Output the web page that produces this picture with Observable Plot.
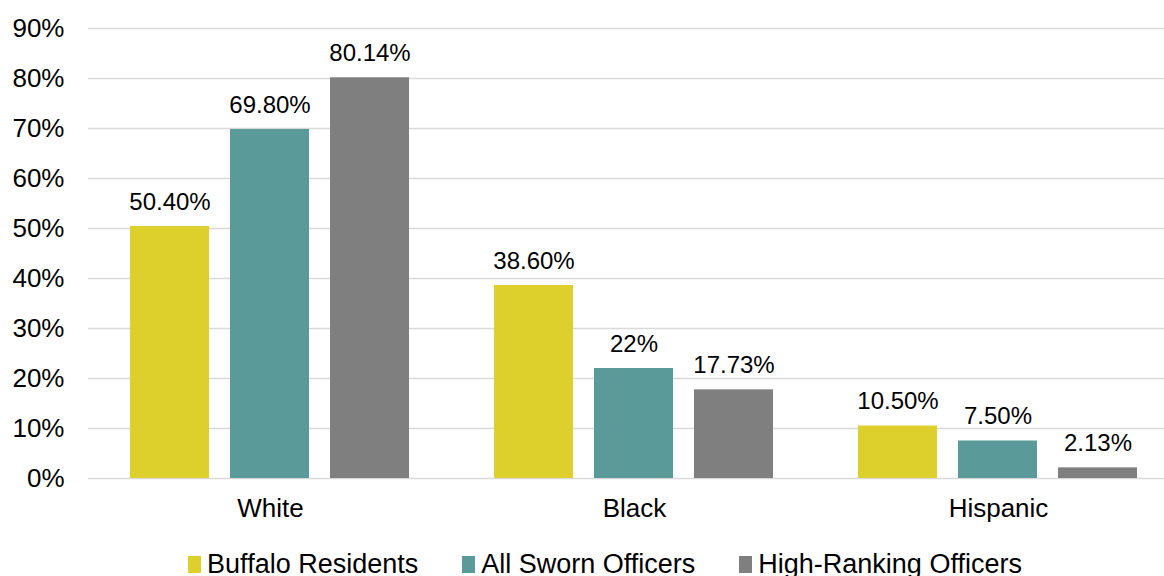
<!DOCTYPE html>
<html>
<head>
<meta charset="utf-8">
<script src="https://cdn.jsdelivr.net/npm/d3@7"></script>
<script src="https://cdn.jsdelivr.net/npm/@observablehq/plot@0.6"></script>
<style>
  html, body { margin: 0; padding: 0; background: #fff; overflow: hidden; width: 1164px; height: 576px; }
  #chart svg { display: block; overflow: hidden; }
  #legend { display: flex; justify-content: center; font-family: "Liberation Sans", Arial, sans-serif; font-size: 27px; color: #000; margin-top: 20px; line-height: 28px; padding-left: 46px; }
  .item { display: flex; align-items: center; margin-right: 44px; }
  .item:last-child { margin-right: 0; }
  .sw { width: 13px; height: 17px; margin-right: 6px; }
</style>
</head>
<body>
<div id="chart"></div>
<div id="legend"></div>
<script>
const categories = ["White", "Black", "Hispanic"];
const series = ["Buffalo Residents", "All Sworn Officers", "High-Ranking Officers"];
const colors = ["#ded02c", "#5a9a98", "#7f7f7f"];
const buffaloResidents = [50.40, 38.60, 10.50];
const allSwornOfficers = [69.80, 22, 7.50];
const highRankingOfficers = [80.14, 17.73, 2.13];
const labelsBuffalo = ["50.40%", "38.60%", "10.50%"];
const labelsSworn = ["69.80%", "22%", "7.50%"];
const labelsHigh = ["80.14%", "17.73%", "2.13%"];
const yTicks = [0, 10, 20, 30, 40, 50, 60, 70, 80, 90];

const valueSets = [buffaloResidents, allSwornOfficers, highRankingOfficers];
const labelSets = [labelsBuffalo, labelsSworn, labelsHigh];
const data = [];
categories.forEach((c, i) => {
  series.forEach((s, j) => {
    data.push({race: c, group: s, value: valueSets[j][i], label: labelSets[j][i]});
  });
});

const font = "'Liberation Sans', Arial, sans-serif";
const chart = Plot.plot({
  width: 1164,
  height: 530,
  marginTop: 28,
  marginBottom: 52,
  marginLeft: 87,
  marginRight: -16,
  style: {fontFamily: font, fontSize: "24px", color: "#000", background: "#fff"},
  fx: {domain: categories, padding: 0, label: null},
  x: {domain: series, paddingInner: 0.208, paddingOuter: 0.406, axis: null},
  y: {domain: [0, 90], label: null},
  color: {domain: series, range: colors},
  marks: [
    Plot.ruleY(yTicks, {stroke: "#d9d9d9", strokeWidth: 1.5}),
    Plot.axisY(yTicks, {tickSize: 0, tickPadding: 24, tickFormat: d => d + "%", fontSize: 26, label: null}),
    Plot.axisFx({anchor: "bottom", tickSize: 0, tickPadding: 20, fontSize: 26, label: null}),
    Plot.barY(data, {fx: "race", x: "group", y: "value", fill: "group"}),
    Plot.text(data, {fx: "race", x: "group", y: "value", text: "label", lineAnchor: "bottom", dy: -17, fontSize: 24, fill: "#000"})
  ]
});
document.getElementById("chart").appendChild(chart);

const legend = document.getElementById("legend");
series.forEach((s, j) => {
  const it = document.createElement("div");
  it.className = "item";
  const sw = document.createElement("div");
  sw.className = "sw";
  sw.style.background = colors[j];
  const t = document.createElement("span");
  t.textContent = s;
  it.appendChild(sw);
  it.appendChild(t);
  legend.appendChild(it);
});
</script>
</body>
</html>
